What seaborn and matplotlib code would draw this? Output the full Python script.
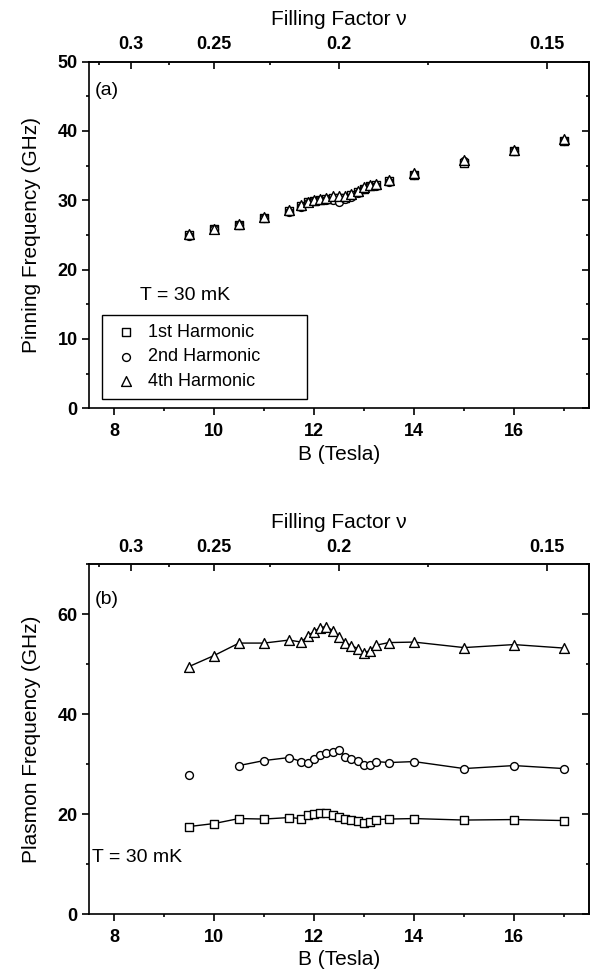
import numpy as np
import pandas as pd
import matplotlib
matplotlib.use("Agg")
import matplotlib.pyplot as plt
import seaborn as sns
from matplotlib.ticker import MultipleLocator, FixedLocator

sns.set_theme(style="ticks")
plt.rcParams['font.family'] = ['Liberation Sans', 'DejaVu Sans']
plt.rcParams.update({'text.color': 'black', 'axes.labelcolor': 'black',
                     'xtick.color': 'black', 'ytick.color': 'black'})

# --- data ---
B_field = [9.5, 10.0, 10.5, 11.0, 11.5, 11.75, 11.875, 12.0, 12.125, 12.25, 12.375, 12.5,
           12.625, 12.75, 12.875, 13.0, 13.125, 13.25, 13.5, 14.0, 15.0, 16.0, 17.0]

# (a) pinning frequency (GHz)
pin_1st = [25.0, 25.8, 26.5, 27.4, 28.4, 29.2, 29.7, 29.9, 30.1, 30.2, 30.3, 30.3,
           30.4, 30.7, 31.2, 31.7, 32.0, 32.2, 32.8, 33.7, 35.4, 37.1, 38.5]
pin_2nd = [24.9, 25.8, 26.4, 27.4, 28.3, 29.1, 29.6, 29.9, 30.0, 30.1, 30.0, 29.8,
           30.2, 30.5, 31.0, 31.6, 32.0, 32.1, 32.7, 33.6, 35.6, 37.1, 38.6]
pin_4th = [25.1, 25.9, 26.6, 27.6, 28.6, 29.35, 29.8, 30.0, 30.2, 30.4, 30.55, 30.6,
           30.65, 30.9, 31.4, 31.85, 32.2, 32.3, 32.9, 33.9, 35.8, 37.3, 38.8]

# (b) plasmon frequency (GHz); no 2nd-harmonic point at 10 T
pl_1st = [17.5, 18.1, 19.1, 19.0, 19.3, 19.1, 19.8, 20.0, 20.2, 20.2, 19.9, 19.5,
          19.0, 18.9, 18.7, 18.3, 18.5, 18.9, 19.0, 19.1, 18.8, 18.9, 18.7]
pl_2nd = [27.8, np.nan, 29.7, 30.7, 31.3, 30.5, 30.2, 31.0, 31.8, 32.3, 32.5, 32.8,
          31.5, 31.0, 30.7, 29.9, 29.9, 30.5, 30.3, 30.5, 29.1, 29.7, 29.1]
pl_4th = [49.5, 51.7, 54.2, 54.2, 54.8, 54.4, 55.7, 56.5, 57.3, 57.5, 56.7, 55.5,
          54.3, 53.7, 53.1, 52.3, 52.7, 53.8, 54.3, 54.4, 53.3, 53.9, 53.2]

harmonics = ["1st Harmonic", "2nd Harmonic", "4th Harmonic"]
markers = ["s", "o", "^"]
sizes = [28, 32, 50]

NU_B = 2.5  # filling factor nu = NU_B / B
nu_major = [0.3, 0.25, 0.2, 0.15]
nu_labels = ["0.3", "0.25", "0.2", "0.15"]
nu_minor = [0.325, 0.275, 0.225, 0.175]


def b_to_nu(b):
    b = np.asarray(b, dtype=float)
    with np.errstate(divide='ignore', invalid='ignore'):
        return NU_B / b


def style_axes(ax, ymax, ymaj, ymin, ylabel):
    ax.set_xlim(7.5, 17.5)
    ax.set_ylim(0, ymax)
    ax.xaxis.set_major_locator(MultipleLocator(2))
    ax.xaxis.set_minor_locator(MultipleLocator(1))
    ax.yaxis.set_major_locator(MultipleLocator(ymaj))
    ax.yaxis.set_minor_locator(MultipleLocator(ymin))
    ax.tick_params(which='both', direction='out', width=1.2, colors='black',
                   top=False, right=False)
    ax.tick_params(which='major', length=5, labelsize=13, pad=3)
    ax.tick_params(axis='x', which='major', pad=5.5)
    ax.tick_params(which='minor', length=2.5)
    for t in ax.get_xticklabels() + ax.get_yticklabels():
        t.set_fontweight('bold')
    for s in ax.spines.values():
        s.set_visible(True)
        s.set_linewidth(1.2)
        s.set_color('black')
    ax.set_xlabel("B (Tesla)", fontsize=15, labelpad=3.5)
    ax.set_ylabel(ylabel, fontsize=15, labelpad=12)

    top = ax.secondary_xaxis('top', functions=(b_to_nu, b_to_nu))
    top.set_xticks(nu_major, labels=nu_labels)
    top.xaxis.set_minor_locator(FixedLocator(nu_minor))
    top.tick_params(which='both', direction='in', width=1.2, colors='black')
    top.tick_params(which='major', length=5, labelsize=13, pad=6)
    top.tick_params(which='minor', length=2.5)
    for t in top.get_xticklabels():
        t.set_fontweight('bold')
    top.set_xlabel("Filling Factor ν", fontsize=15, labelpad=8)

    right = ax.secondary_yaxis('right')
    right.yaxis.set_major_locator(MultipleLocator(ymaj))
    right.yaxis.set_minor_locator(MultipleLocator(ymin))
    right.tick_params(which='both', direction='in', width=1.2, labelright=False)
    right.tick_params(which='major', length=5)
    right.tick_params(which='minor', length=2.5)


fig = plt.figure(figsize=(5.98, 9.8), dpi=100)
ax_a = fig.add_axes([0.1488, 0.5834, 0.8361, 0.3537])
ax_b = fig.add_axes([0.1488, 0.0673, 0.8361, 0.3571])

# --- (a) pinning frequency, open symbols only ---
for name, vals, mk, sz in zip(harmonics, [pin_1st, pin_2nd, pin_4th], markers, sizes):
    sns.scatterplot(x=B_field, y=vals, marker=mk, s=sz, facecolor='white',
                    edgecolor='black', linewidth=1.0, label=name, ax=ax_a, zorder=3)

style_axes(ax_a, 50, 10, 5, "Pinning Frequency (GHz)")
leg = ax_a.legend(loc='lower left', bbox_to_anchor=(0.027, 0.027, 0.41, 0.24),
                  mode='expand', borderaxespad=0, frameon=True, fancybox=False,
                  edgecolor='black', framealpha=1, fontsize=13, handletextpad=0.4,
                  labelspacing=0.42, borderpad=0.5, handlelength=1.6)
leg.get_frame().set_linewidth(1.0)
ax_a.text(0.012, 0.918, "(a)", transform=ax_a.transAxes, fontsize=14, va='center')
ax_a.text(0.103, 0.326, "T = 30 mK", transform=ax_a.transAxes, fontsize=14, va='center')

# --- (b) plasmon frequency, symbols joined by lines ---
B_arr = np.asarray(B_field, dtype=float)
for name, vals, mk, sz in zip(harmonics, [pl_1st, pl_2nd, pl_4th], markers, sizes):
    y = np.asarray(vals, dtype=float)
    idx = np.flatnonzero(~np.isnan(y))
    runs = np.split(idx, np.flatnonzero(np.diff(idx) > 1) + 1)
    for r in runs:
        if len(r) > 1:
            sns.lineplot(x=B_arr[r], y=y[r], color='black', linewidth=1.0,
                         estimator=None, sort=False, ax=ax_b, zorder=2)
    sns.scatterplot(x=B_arr[idx], y=y[idx], marker=mk, s=sz, facecolor='white',
                    edgecolor='black', linewidth=1.0, ax=ax_b, zorder=3)

style_axes(ax_b, 70, 20, 10, "Plasmon Frequency (GHz)")
ax_b.text(0.012, 0.90, "(b)", transform=ax_b.transAxes, fontsize=14, va='center')
ax_b.text(0.006, 0.163, "T = 30 mK", transform=ax_b.transAxes, fontsize=14, va='center')

fig.savefig("out.png", dpi=100)
